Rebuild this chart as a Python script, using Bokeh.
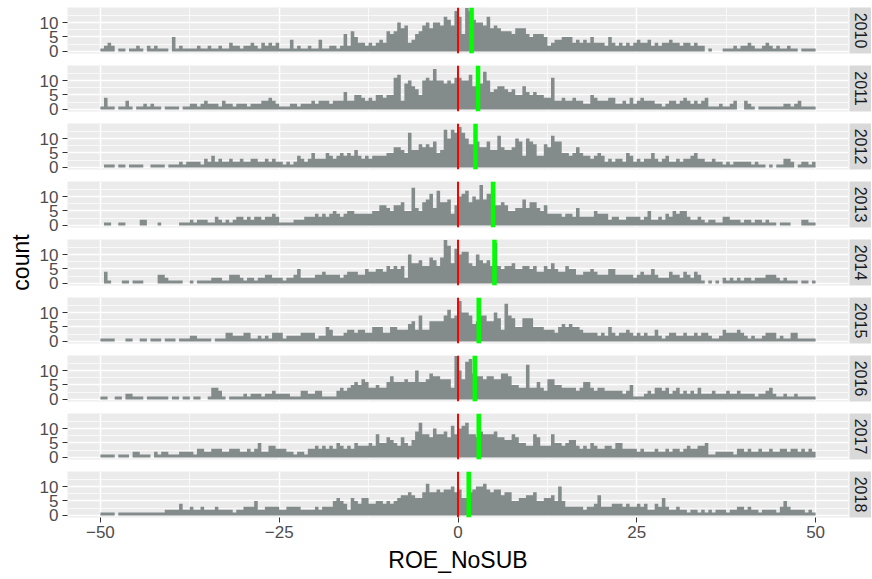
import math
from bokeh.plotting import figure
from bokeh.layouts import column, row
from bokeh.models import Range1d, FixedTicker, Span, ColumnDataSource, Label
from bokeh.core.properties import value
from bokeh.embed import file_html
from bokeh.resources import INLINE

# ---------------- data ----------------
years = ["2010", "2011", "2012", "2013", "2014", "2015", "2016", "2017", "2018"]
bin_start = -50.0
bin_width = 0.5

counts_2010 = [
    1, 2, 3, 2, 0, 1, 1, 0, 1, 1, 2, 1, 0, 2, 1, 2, 1, 1, 1, 0, 5, 1, 2, 1, 1, 1, 1, 2, 1, 1, 2, 1, 1, 2, 1, 1, 3, 2, 2, 1, 2, 2, 3, 2, 1, 3, 2, 3, 2, 3,
    1, 1, 1, 4, 1, 2, 1, 1, 2, 1, 1, 4, 1, 1, 2, 2, 1, 2, 6, 2, 7, 5, 3, 3, 2, 3, 2, 3, 4, 3, 7, 6, 7, 10, 8, 9, 3, 4, 6, 7, 9, 10, 8, 10, 10, 9, 12, 11, 9, 14,
    12, 6, 15, 14, 11, 10, 10, 9, 12, 8, 9, 8, 7, 7, 7, 6, 8, 8, 8, 6, 5, 6, 6, 6, 5, 2, 3, 4, 4, 5, 5, 5, 3, 4, 3, 4, 3, 5, 3, 3, 3, 2, 5, 3, 2, 3, 2, 3, 2, 3,
    4, 3, 3, 4, 2, 3, 2, 3, 3, 4, 3, 3, 2, 3, 3, 2, 3, 2, 2, 0, 1, 0, 0, 0, 1, 1, 1, 2, 1, 2, 2, 3, 2, 1, 1, 2, 3, 2, 1, 2, 1, 1, 2, 1, 1, 0, 1, 1, 1, 1,
]
counts_2011 = [
    1, 4, 1, 1, 0, 1, 1, 3, 1, 0, 1, 1, 2, 1, 2, 1, 1, 0, 1, 1, 1, 1, 0, 1, 1, 2, 2, 1, 2, 3, 2, 2, 2, 1, 3, 2, 2, 1, 2, 2, 2, 1, 2, 2, 2, 3, 3, 4, 3, 2,
    1, 1, 1, 2, 2, 1, 2, 2, 2, 3, 2, 3, 3, 3, 2, 3, 3, 3, 6, 3, 3, 5, 5, 4, 3, 4, 3, 5, 5, 4, 5, 5, 11, 12, 3, 9, 10, 8, 7, 5, 10, 11, 10, 14, 10, 10, 9, 10, 9, 11,
    11, 10, 10, 12, 8, 9, 9, 13, 10, 6, 7, 8, 8, 7, 6, 7, 5, 5, 8, 6, 5, 6, 5, 5, 4, 4, 11, 3, 3, 4, 3, 3, 4, 3, 3, 2, 2, 5, 4, 3, 3, 3, 4, 4, 2, 2, 3, 2, 4, 2,
    3, 4, 3, 3, 3, 2, 2, 1, 2, 3, 3, 2, 3, 4, 3, 2, 3, 2, 3, 4, 1, 1, 1, 2, 1, 1, 2, 3, 0, 0, 3, 2, 1, 0, 1, 1, 1, 1, 1, 1, 1, 2, 2, 1, 2, 3, 1, 1, 1, 1,
]
counts_2012 = [
    0, 1, 1, 1, 0, 1, 1, 0, 1, 1, 1, 1, 0, 0, 1, 1, 1, 1, 0, 1, 1, 1, 2, 1, 2, 2, 2, 2, 1, 3, 2, 4, 2, 3, 2, 2, 3, 2, 2, 3, 2, 2, 3, 3, 2, 2, 3, 2, 3, 2,
    2, 1, 2, 1, 2, 4, 3, 2, 3, 5, 3, 3, 3, 5, 4, 3, 4, 5, 4, 5, 4, 6, 4, 3, 4, 3, 4, 4, 4, 4, 5, 5, 7, 7, 6, 5, 12, 6, 6, 8, 7, 8, 7, 9, 5, 6, 13, 10, 13, 12,
    14, 12, 10, 8, 8, 9, 7, 7, 9, 6, 6, 11, 7, 6, 6, 7, 10, 9, 4, 10, 9, 8, 4, 4, 8, 7, 11, 9, 9, 5, 5, 4, 5, 7, 5, 4, 4, 3, 4, 5, 4, 2, 3, 2, 3, 3, 2, 5, 4, 2,
    3, 2, 3, 3, 5, 3, 2, 3, 4, 2, 2, 3, 2, 3, 3, 4, 5, 3, 3, 2, 2, 3, 2, 2, 1, 2, 1, 2, 2, 2, 2, 2, 1, 2, 1, 1, 0, 1, 0, 1, 1, 3, 3, 2, 0, 1, 2, 2, 1, 2,
]
counts_2013 = [
    0, 1, 1, 0, 0, 1, 1, 0, 0, 0, 0, 2, 2, 0, 0, 0, 1, 0, 0, 0, 0, 0, 1, 1, 1, 2, 1, 2, 2, 2, 1, 1, 3, 2, 1, 2, 1, 2, 3, 3, 2, 3, 2, 3, 3, 2, 3, 3, 4, 3,
    1, 1, 1, 1, 2, 2, 2, 3, 3, 3, 4, 3, 4, 3, 4, 5, 4, 3, 4, 5, 5, 4, 4, 4, 4, 4, 5, 5, 7, 7, 6, 5, 7, 7, 8, 5, 5, 13, 6, 5, 8, 9, 11, 6, 12, 8, 8, 9, 4, 7,
    10, 11, 12, 8, 10, 9, 14, 9, 11, 11, 7, 7, 8, 7, 5, 5, 6, 6, 9, 6, 8, 8, 6, 5, 7, 4, 4, 4, 4, 3, 4, 4, 3, 6, 3, 3, 3, 3, 5, 4, 4, 4, 2, 3, 3, 2, 2, 3, 3, 3,
    3, 2, 3, 5, 2, 2, 3, 2, 4, 3, 5, 4, 5, 5, 3, 2, 2, 3, 2, 1, 2, 2, 1, 1, 3, 3, 2, 2, 2, 1, 2, 2, 1, 2, 2, 1, 2, 1, 1, 0, 1, 1, 1, 0, 0, 0, 2, 2, 1, 1,
]
counts_2014 = [
    0, 4, 1, 0, 0, 0, 1, 1, 0, 1, 1, 1, 0, 0, 0, 0, 3, 3, 2, 1, 1, 1, 1, 0, 0, 1, 0, 1, 1, 1, 1, 2, 2, 2, 1, 1, 3, 3, 3, 2, 1, 2, 2, 1, 2, 2, 3, 3, 2, 2,
    2, 1, 2, 2, 3, 5, 2, 2, 2, 2, 3, 3, 4, 3, 3, 3, 3, 2, 3, 4, 4, 4, 3, 3, 5, 4, 4, 5, 5, 4, 6, 5, 6, 5, 6, 2, 10, 7, 7, 8, 6, 6, 9, 8, 6, 9, 15, 13, 7, 12,
    10, 11, 11, 7, 6, 10, 8, 7, 8, 6, 14, 6, 5, 6, 6, 7, 5, 5, 6, 6, 5, 6, 4, 4, 6, 5, 7, 5, 4, 4, 6, 5, 5, 3, 3, 4, 4, 5, 4, 3, 3, 3, 5, 5, 3, 3, 3, 3, 3, 2,
    3, 4, 3, 3, 5, 3, 2, 2, 2, 4, 3, 3, 2, 4, 3, 2, 4, 3, 1, 0, 1, 0, 1, 0, 2, 1, 2, 1, 2, 1, 2, 2, 1, 2, 2, 2, 3, 3, 3, 2, 1, 2, 1, 1, 1, 0, 1, 1, 0, 1,
]
counts_2015 = [
    1, 1, 1, 1, 0, 0, 0, 1, 1, 0, 0, 1, 1, 0, 1, 1, 1, 0, 1, 1, 1, 0, 1, 1, 1, 2, 2, 1, 1, 1, 1, 0, 1, 1, 1, 3, 3, 2, 2, 2, 3, 3, 1, 1, 2, 1, 2, 1, 3, 3,
    3, 1, 2, 2, 2, 2, 3, 3, 3, 3, 1, 2, 2, 5, 4, 2, 2, 2, 3, 4, 4, 3, 4, 4, 3, 3, 5, 5, 5, 3, 3, 5, 5, 4, 4, 4, 6, 7, 4, 9, 4, 4, 7, 7, 7, 7, 9, 11, 8, 9,
    14, 10, 10, 9, 6, 7, 9, 9, 7, 7, 10, 8, 4, 13, 9, 8, 5, 5, 8, 8, 8, 5, 5, 5, 4, 4, 4, 3, 5, 6, 5, 6, 5, 5, 4, 3, 3, 3, 3, 2, 3, 2, 5, 3, 2, 3, 3, 4, 3, 2,
    3, 2, 3, 2, 2, 4, 2, 1, 2, 3, 3, 2, 2, 3, 2, 2, 3, 2, 3, 3, 2, 1, 1, 2, 4, 3, 3, 3, 4, 3, 2, 1, 2, 1, 1, 2, 3, 3, 3, 1, 2, 1, 1, 3, 3, 1, 1, 1, 1, 1,
]
counts_2016 = [
    1, 1, 0, 0, 1, 1, 0, 2, 2, 1, 1, 1, 0, 1, 1, 1, 1, 1, 1, 0, 1, 1, 0, 1, 1, 0, 1, 1, 0, 0, 1, 4, 4, 3, 1, 0, 1, 1, 1, 1, 2, 1, 2, 2, 2, 1, 2, 2, 3, 2,
    2, 2, 2, 1, 1, 1, 3, 3, 2, 2, 3, 3, 1, 1, 1, 1, 3, 4, 3, 4, 5, 6, 5, 7, 6, 4, 4, 5, 4, 4, 6, 8, 6, 6, 6, 7, 6, 6, 10, 6, 6, 7, 9, 8, 8, 7, 7, 7, 4, 15,
    10, 7, 13, 14, 9, 8, 8, 7, 8, 8, 7, 7, 9, 9, 8, 5, 5, 4, 4, 12, 4, 4, 6, 4, 3, 7, 7, 5, 5, 4, 4, 4, 4, 3, 4, 6, 6, 4, 3, 4, 4, 3, 3, 3, 3, 3, 2, 3, 5, 1,
    1, 1, 2, 3, 2, 4, 4, 3, 4, 2, 3, 4, 2, 3, 2, 3, 2, 4, 2, 2, 2, 3, 2, 2, 2, 3, 2, 2, 3, 2, 2, 2, 2, 1, 2, 2, 3, 4, 2, 1, 1, 2, 1, 1, 2, 1, 1, 1, 1, 1,
]
counts_2017 = [
    1, 1, 1, 1, 0, 1, 1, 1, 0, 2, 2, 1, 1, 1, 0, 2, 1, 2, 2, 1, 1, 1, 2, 2, 2, 2, 1, 3, 3, 2, 2, 3, 3, 3, 2, 2, 3, 3, 3, 2, 2, 3, 2, 3, 5, 2, 2, 4, 4, 3,
    3, 3, 2, 2, 1, 2, 2, 1, 3, 3, 4, 3, 4, 3, 4, 3, 5, 4, 3, 4, 3, 5, 4, 4, 4, 5, 4, 8, 5, 5, 7, 6, 5, 4, 7, 5, 4, 6, 9, 12, 8, 8, 7, 10, 8, 8, 9, 7, 11, 8,
    10, 11, 12, 8, 8, 7, 9, 8, 8, 8, 9, 7, 7, 6, 6, 8, 7, 5, 5, 4, 4, 8, 7, 4, 4, 4, 8, 5, 5, 4, 5, 6, 6, 4, 3, 4, 3, 5, 4, 3, 3, 4, 4, 3, 5, 5, 3, 3, 3, 3,
    2, 3, 2, 2, 2, 3, 2, 2, 3, 2, 3, 3, 2, 3, 4, 3, 3, 4, 4, 5, 1, 1, 2, 2, 2, 2, 2, 1, 3, 3, 2, 3, 2, 2, 3, 2, 2, 3, 2, 2, 3, 3, 2, 3, 3, 2, 3, 2, 3, 2,
]
counts_2018 = [
    1, 1, 1, 1, 0, 1, 1, 1, 1, 1, 1, 1, 1, 1, 1, 1, 1, 1, 2, 2, 2, 2, 4, 2, 2, 3, 2, 2, 3, 2, 2, 2, 3, 2, 2, 2, 2, 1, 2, 2, 3, 3, 3, 5, 2, 2, 3, 3, 3, 3,
    2, 2, 3, 3, 3, 3, 2, 2, 2, 2, 3, 2, 3, 3, 3, 5, 6, 5, 4, 2, 6, 5, 4, 6, 6, 4, 4, 5, 5, 4, 5, 4, 5, 6, 7, 7, 8, 7, 6, 6, 8, 11, 8, 8, 9, 8, 9, 9, 10, 8,
    9, 6, 6, 8, 9, 10, 10, 11, 9, 8, 9, 9, 7, 8, 8, 5, 5, 6, 6, 7, 7, 8, 5, 5, 6, 6, 7, 5, 10, 5, 3, 3, 3, 3, 3, 2, 3, 3, 4, 7, 3, 3, 3, 4, 4, 4, 3, 4, 3, 3,
    4, 3, 4, 2, 2, 4, 3, 6, 3, 2, 2, 3, 2, 2, 1, 2, 2, 1, 2, 1, 2, 1, 2, 2, 2, 1, 2, 2, 3, 3, 2, 3, 2, 2, 1, 2, 2, 2, 2, 1, 3, 5, 3, 2, 2, 2, 2, 1, 2, 1,
]

all_counts = [counts_2010, counts_2011, counts_2012, counts_2013, counts_2014,
              counts_2015, counts_2016, counts_2017, counts_2018]

# green reference line per year, red reference line at zero
green_lines = [1.9, 2.8, 2.45, 4.9, 5.1, 2.9, 2.35, 2.9, 1.5]
red_line = 0.0

x_ticks = [-50, -25, 0, 25, 50]
x_minor = [-37.5, -12.5, 12.5, 37.5]
y_ticks = [0, 5, 10]
y_minor = [2.5, 7.5, 12.5]

# ---------------- style ----------------
FONT = "Liberation Sans"
PANEL_BG = "#EBEBEB"
STRIP_BG = "#D9D9D9"
BAR = "#838B8B"
TICK_COL = "#333333"
LABEL_COL = "#4D4D4D"

LABEL_W = 30          # width of the column holding the shared y title
TOTAL_H = 577

rows = []
n = len(years)
for k, (yr, counts, gline) in enumerate(zip(years, all_counts, green_lines)):
    last = (k == n - 1)
    top_b = 7 if k == 0 else 0
    bottom = 60 if last else 12
    h = top_b + 46 + bottom

    p = figure(width=849 - LABEL_W, height=h,
               x_range=Range1d(-54.6, 54.6), y_range=Range1d(-0.72, 15.2),
               output_backend="svg", toolbar_location=None,
               min_border_left=67 - LABEL_W, min_border_right=1,
               min_border_top=top_b, min_border_bottom=bottom,
               background_fill_color=PANEL_BG, border_fill_color="white")
    p.outline_line_color = None

    # histogram silhouette as one step polygon (avoids seams between bars)
    xs, ys = [bin_start], [0]
    for i, c in enumerate(counts):
        l = bin_start + i * bin_width
        xs += [l, l + bin_width]
        ys += [c, c]
    xs.append(bin_start + len(counts) * bin_width)
    ys.append(0)
    src = ColumnDataSource(dict(x=xs, y=ys))
    p.patch(x="x", y="y", source=src, fill_color=BAR, line_color=None)

    p.add_layout(Span(location=red_line, dimension="height", line_color="#FF0000", line_width=2))
    p.add_layout(Span(location=gline, dimension="height", line_color="#00FF00", line_width=4.5))

    # grids
    p.xgrid.ticker = FixedTicker(ticks=x_ticks, minor_ticks=x_minor)
    p.ygrid.ticker = FixedTicker(ticks=y_ticks, minor_ticks=y_minor)
    for g in (p.xgrid, p.ygrid):
        g.grid_line_color = "white"
        g.grid_line_width = 1.5
        g.minor_grid_line_color = "white"
        g.minor_grid_line_width = 0.7

    # y axis
    yax = p.yaxis[0]
    yax.ticker = FixedTicker(ticks=y_ticks, minor_ticks=y_minor)
    yax.axis_line_color = None
    yax.major_tick_in = 0
    yax.major_tick_out = 5
    yax.major_tick_line_color = TICK_COL
    yax.minor_tick_in = 0
    yax.minor_tick_out = 0
    yax.major_label_standoff = 4
    yax.major_label_text_font = FONT
    yax.major_label_text_font_size = "17px"
    yax.major_label_text_color = LABEL_COL

    # x axis
    xax = p.xaxis[0]
    xax.ticker = FixedTicker(ticks=x_ticks, minor_ticks=x_minor)
    if last:
        xax.axis_line_color = None
        xax.major_tick_in = 0
        xax.major_tick_out = 5
        xax.major_tick_line_color = TICK_COL
        xax.minor_tick_in = 0
        xax.minor_tick_out = 0
        xax.major_label_standoff = 3
        xax.major_label_text_font = FONT
        xax.major_label_text_font_size = "17px"
        xax.major_label_text_color = LABEL_COL
        xax.axis_label = "ROE_NoSUB"
        xax.axis_label_text_font = FONT
        xax.axis_label_text_font_size = "23px"
        xax.axis_label_text_font_style = "normal"
        xax.axis_label_text_color = "black"
        xax.axis_label_standoff = 6
    else:
        xax.visible = False

    # facet strip on the right
    s = figure(width=22, height=h, x_range=Range1d(0, 1), y_range=Range1d(0, 1),
               output_backend="svg", toolbar_location=None,
               x_axis_type=None, y_axis_type=None,
               min_border_left=0, min_border_right=0,
               min_border_top=top_b, min_border_bottom=bottom,
               background_fill_color=STRIP_BG, border_fill_color="white")
    s.outline_line_color = None
    s.text(x=[0.5], y=[0.5], text=[yr], angle=-math.pi / 2,
           text_align="center", text_baseline="middle",
           text_font=value(FONT), text_font_size="16px", text_color="#1A1A1A")

    rows.append(row(p, s, spacing=0))

# shared y-axis title in its own narrow column (pixel-sized ranges)
lab = figure(width=LABEL_W, height=TOTAL_H,
             x_range=Range1d(0, LABEL_W), y_range=Range1d(0, TOTAL_H),
             output_backend="svg", toolbar_location=None,
             x_axis_type=None, y_axis_type=None,
             min_border_left=0, min_border_right=0, min_border_top=0, min_border_bottom=0,
             background_fill_color="white", border_fill_color="white")
lab.outline_line_color = None
lab.add_layout(Label(x=20, y=TOTAL_H - 262, text="count", angle=math.pi / 2,
                     text_align="center", text_baseline="middle",
                     text_font=FONT, text_font_size="23px", text_color="black"))

layout = row(lab, column(*rows, spacing=0), spacing=0)

open("out.html", "w").write(file_html(layout, INLINE))
